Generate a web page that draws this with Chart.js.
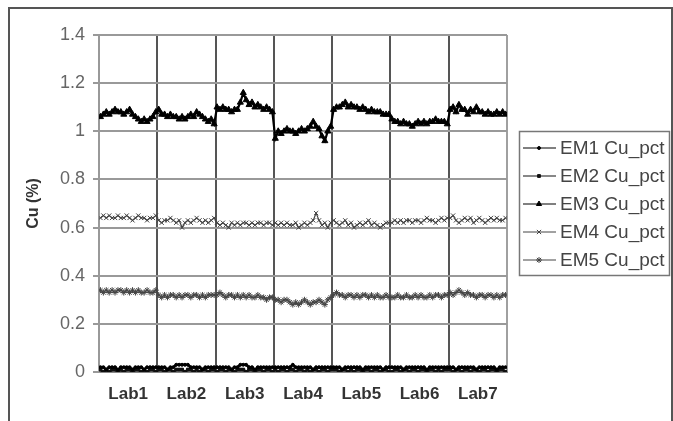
<!DOCTYPE html>
<html>
<head>
<meta charset="utf-8">
<script src="https://cdn.jsdelivr.net/npm/chart.js@4"></script>
<style>
  body { margin: 0; background: #fff; }
  #wrap { position: relative; width: 673px; height: 421px; }
  #frame {
    position: absolute; left: 8px; top: 7px; width: 665px; height: 420px;
    border: 2px solid #555; border-bottom: none; box-sizing: border-box; pointer-events: none;
  }
</style>
</head>
<body>
<div id="wrap">
  <canvas id="chart"></canvas>
  <div id="frame"></div>
</div>
<script>
const labs = ["Lab1", "Lab2", "Lab3", "Lab4", "Lab5", "Lab6", "Lab7"];
const perLab = 20;
const yTicks = [0, 0.2, 0.4, 0.6, 0.8, 1, 1.2, 1.4];

// one row per lab, 20 samples each
const em1 = [
  0.02,0.02,0.01,0.02,0.02,0.02,0.01,0.02,0.02,0.02,0.02,0.01,0.02,0.02,0.02,0.01,0.02,0.02,0.02,0.02,
  0.02,0.02,0.02,0.01,0.02,0.02,0.03,0.03,0.03,0.03,0.03,0.02,0.02,0.02,0.02,0.01,0.02,0.02,0.02,0.02,
  0.02,0.02,0.02,0.02,0.02,0.01,0.02,0.02,0.03,0.03,0.03,0.02,0.02,0.01,0.02,0.02,0.02,0.02,0.02,0.02,
  0.02,0.02,0.02,0.02,0.02,0.02,0.03,0.02,0.02,0.02,0.02,0.02,0.02,0.01,0.02,0.02,0.02,0.02,0.02,0.02,
  0.02,0.02,0.02,0.01,0.02,0.02,0.02,0.02,0.02,0.02,0.01,0.02,0.02,0.02,0.02,0.02,0.02,0.01,0.02,0.02,
  0.02,0.02,0.02,0.02,0.01,0.02,0.02,0.02,0.02,0.02,0.02,0.02,0.01,0.02,0.02,0.02,0.02,0.02,0.02,0.02,
  0.02,0.02,0.01,0.02,0.02,0.02,0.02,0.02,0.02,0.01,0.02,0.02,0.02,0.02,0.02,0.02,0.01,0.02,0.02,0.02
];
const em2 = [
  0.01,0.00,0.01,0.00,0.01,0.01,0.00,0.01,0.00,0.01,0.01,0.00,0.01,0.01,0.00,0.01,0.00,0.01,0.01,0.00,
  0.01,0.01,0.00,0.01,0.01,0.00,0.01,0.01,0.01,0.00,0.01,0.01,0.00,0.01,0.00,0.01,0.01,0.00,0.01,0.01,
  0.00,0.01,0.01,0.00,0.01,0.01,0.00,0.01,0.01,0.01,0.00,0.01,0.01,0.00,0.01,0.01,0.00,0.01,0.01,0.00,
  0.01,0.00,0.01,0.01,0.00,0.01,0.01,0.00,0.01,0.01,0.00,0.01,0.00,0.01,0.01,0.00,0.01,0.01,0.00,0.01,
  0.01,0.01,0.00,0.01,0.01,0.00,0.01,0.00,0.01,0.01,0.00,0.01,0.01,0.00,0.01,0.01,0.00,0.01,0.01,0.00,
  0.00,0.01,0.01,0.00,0.01,0.01,0.00,0.01,0.01,0.00,0.01,0.01,0.00,0.01,0.01,0.00,0.01,0.00,0.01,0.01,
  0.01,0.00,0.01,0.01,0.00,0.01,0.01,0.00,0.01,0.01,0.00,0.01,0.01,0.00,0.01,0.01,0.00,0.01,0.01,0.00
];
const em3 = [
  1.06,1.07,1.08,1.07,1.08,1.09,1.08,1.08,1.07,1.08,1.09,1.07,1.06,1.05,1.04,1.05,1.04,1.05,1.06,1.08,
  1.09,1.07,1.07,1.06,1.07,1.06,1.06,1.05,1.06,1.05,1.06,1.07,1.06,1.08,1.07,1.06,1.05,1.04,1.05,1.03,
  1.10,1.09,1.10,1.09,1.09,1.08,1.09,1.09,1.12,1.16,1.13,1.11,1.12,1.10,1.11,1.10,1.09,1.10,1.09,1.08,
  0.97,1.00,0.99,1.00,1.01,1.00,1.00,0.99,1.00,1.01,1.00,1.01,1.02,1.04,1.02,1.01,0.98,0.96,1.00,1.02,
  1.09,1.10,1.10,1.11,1.12,1.10,1.11,1.10,1.10,1.09,1.10,1.09,1.08,1.09,1.08,1.08,1.08,1.07,1.07,1.07,
  1.05,1.04,1.04,1.03,1.04,1.03,1.03,1.02,1.03,1.04,1.03,1.04,1.03,1.04,1.04,1.05,1.04,1.04,1.04,1.03,
  1.09,1.10,1.08,1.11,1.09,1.09,1.07,1.09,1.08,1.10,1.08,1.08,1.07,1.08,1.07,1.07,1.08,1.07,1.08,1.07
];
const em4 = [
  0.64,0.65,0.64,0.65,0.64,0.64,0.65,0.64,0.64,0.65,0.64,0.63,0.64,0.65,0.64,0.64,0.63,0.64,0.64,0.65,
  0.63,0.62,0.63,0.63,0.64,0.63,0.62,0.63,0.60,0.62,0.63,0.62,0.63,0.64,0.63,0.62,0.63,0.62,0.63,0.64,
  0.62,0.61,0.62,0.61,0.60,0.62,0.61,0.62,0.61,0.62,0.62,0.61,0.62,0.61,0.62,0.62,0.61,0.62,0.62,0.61,
  0.62,0.61,0.62,0.61,0.62,0.61,0.61,0.62,0.60,0.61,0.62,0.61,0.62,0.63,0.66,0.63,0.61,0.62,0.60,0.62,
  0.63,0.62,0.61,0.62,0.63,0.61,0.62,0.60,0.61,0.62,0.61,0.62,0.63,0.61,0.62,0.61,0.60,0.61,0.62,0.62,
  0.62,0.63,0.62,0.63,0.62,0.63,0.63,0.62,0.63,0.63,0.62,0.63,0.64,0.63,0.63,0.62,0.63,0.64,0.63,0.64,
  0.64,0.65,0.63,0.62,0.63,0.64,0.63,0.64,0.62,0.63,0.64,0.63,0.62,0.63,0.64,0.63,0.64,0.63,0.63,0.64
];
const em5 = [
  0.34,0.33,0.34,0.33,0.34,0.33,0.34,0.34,0.33,0.34,0.33,0.34,0.33,0.34,0.33,0.33,0.34,0.33,0.33,0.34,
  0.32,0.31,0.32,0.31,0.32,0.32,0.31,0.32,0.31,0.32,0.32,0.31,0.32,0.32,0.31,0.32,0.31,0.32,0.32,0.32,
  0.32,0.33,0.32,0.31,0.32,0.32,0.31,0.32,0.31,0.32,0.31,0.32,0.31,0.31,0.32,0.31,0.31,0.30,0.31,0.31,
  0.30,0.30,0.29,0.30,0.30,0.29,0.28,0.29,0.28,0.29,0.30,0.29,0.28,0.29,0.29,0.30,0.29,0.28,0.30,0.31,
  0.32,0.33,0.32,0.32,0.31,0.32,0.32,0.31,0.32,0.31,0.32,0.32,0.31,0.32,0.31,0.32,0.31,0.31,0.32,0.31,
  0.31,0.31,0.32,0.31,0.31,0.32,0.31,0.31,0.32,0.31,0.32,0.31,0.31,0.32,0.31,0.32,0.32,0.31,0.32,0.32,
  0.33,0.32,0.33,0.34,0.33,0.32,0.33,0.32,0.32,0.31,0.32,0.32,0.31,0.32,0.32,0.31,0.32,0.31,0.32,0.32
];

const nPoints = labs.length * perLab;
const toXY = (arr) => arr.map((v, i) => ({ x: i + 0.5, y: v }));

function series(label, values, color, style, radius, width) {
  return {
    label: label,
    data: toXY(values),
    borderColor: color,
    backgroundColor: color,
    borderWidth: width,
    pointStyle: style,
    pointRadius: radius,
    pointBackgroundColor: color,
    pointBorderColor: color,
    pointBorderWidth: 1,
    tension: 0
  };
}

// legend drawn as a framed box like the original
const boxLegend = {
  id: 'boxLegend',
  afterDraw(chart) {
    const ctx = chart.ctx;
    ctx.save();
    ctx.strokeStyle = '#777';
    ctx.lineWidth = 1.5;
    ctx.strokeRect(519.5, 131.5, 150, 144);
    chart.data.datasets.forEach((ds, i) => {
      const y = 148 + i * 28;
      ctx.strokeStyle = ds.borderColor;
      ctx.lineWidth = 1;
      ctx.beginPath();
      ctx.moveTo(523, y);
      ctx.lineTo(556, y);
      ctx.stroke();
      ctx.fillStyle = ds.pointBackgroundColor;
      ctx.strokeStyle = ds.pointBorderColor;
      Chart.helpers.drawPoint(ctx, { pointStyle: ds.pointStyle, radius: Math.min(ds.pointRadius, 3), borderWidth: 1, rotation: 0 }, 539, y);
      ctx.fillStyle = '#444';
      ctx.font = '19px "Liberation Sans", Arial, sans-serif';
      ctx.textBaseline = 'middle';
      ctx.fillText(ds.label, 560, y + 1);
    });
    ctx.restore();
  }
};

new Chart(document.getElementById('chart').getContext('2d'), {
  type: 'line',
  data: {
    datasets: [
      series('EM1 Cu_pct', em1, '#000', 'circle', 1.5, 2.5),
      series('EM2 Cu_pct', em2, '#111', 'rect', 2, 2.5),
      series('EM3 Cu_pct', em3, '#000', 'triangle', 3.5, 2.2),
      series('EM4 Cu_pct', em4, '#444', 'crossRot', 3, 1.2),
      series('EM5 Cu_pct', em5, '#444', 'star', 3, 1.2)
    ]
  },
  options: {
    responsive: true,
    maintainAspectRatio: false,
    animation: false,
    layout: { padding: { left: 20, right: 166, top: 35, bottom: 0 } },
    plugins: { legend: { display: false }, tooltip: { enabled: false } },
    scales: {
      x: {
        type: 'linear',
        min: 0,
        max: nPoints,
        afterBuildTicks: (scale) => {
          const t = [];
          for (let v = 0; v <= nPoints; v += perLab / 2) t.push({ value: v });
          scale.ticks = t;
        },
        afterFit: (scale) => { scale.height = 49; },
        grid: {
          drawTicks: false,
          lineWidth: 2,
          color: (c) => {
            const v = c.tick.value;
            if (v % perLab !== 0 || v === 0) return 'rgba(0,0,0,0)';
            if (v === nPoints) return '#a0a0a0';
            return '#555';
          }
        },
        border: { display: true, color: '#888', width: 2 },
        ticks: {
          autoSkip: false,
          maxRotation: 0,
          padding: 12,
          color: '#333',
          font: { family: '"Liberation Sans", Arial, sans-serif', size: 17, weight: 'bold' },
          callback: (v) => (v % perLab === perLab / 2 ? labs[(v - perLab / 2) / perLab] : '')
        }
      },
      y: {
        min: 0,
        max: 1.4,
        afterBuildTicks: (scale) => { scale.ticks = yTicks.map(v => ({ value: v })); },
        afterFit: (scale) => { scale.width = 79; },
        grid: { color: '#999', lineWidth: 2, drawTicks: true, tickLength: 6 },
        border: { display: true, color: '#999', width: 2 },
        ticks: {
          padding: 8,
          color: '#666',
          font: { family: '"Liberation Sans", Arial, sans-serif', size: 18 },
          callback: (v) => String(Math.round(v * 10) / 10)
        },
        title: {
          display: true,
          text: 'Cu (%)',
          color: '#333',
          font: { family: '"Liberation Sans", Arial, sans-serif', size: 16, weight: 'bold' }
        }
      }
    }
  },
  plugins: [boxLegend]
});
</script>
</body>
</html>
